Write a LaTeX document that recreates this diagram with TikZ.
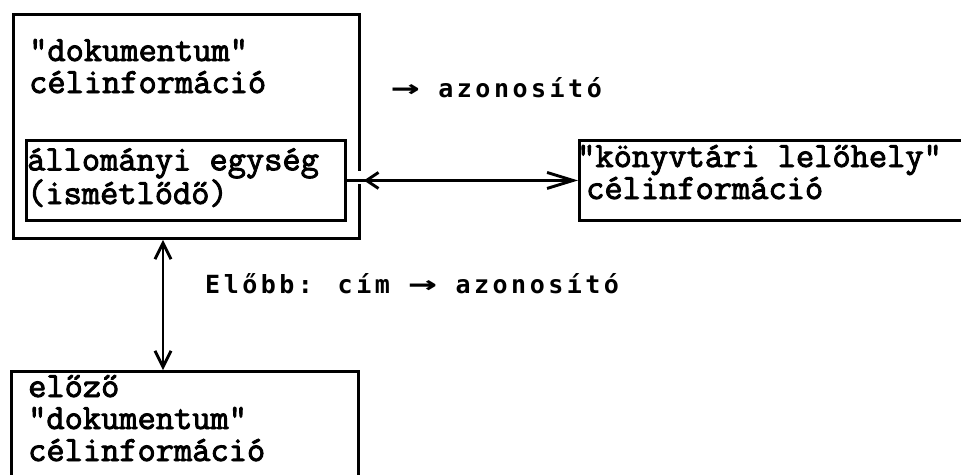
\documentclass[tikz,border=0pt]{standalone}
\usepackage{fontspec}
\setmainfont{Liberation Serif}
\newfontfamily\twfont[FakeBold=2.6]{Latin Modern Mono}
\newfontfamily\gothfont[LetterSpace=14]{DejaVu Sans Mono}
\usetikzlibrary{arrows.meta,decorations.markings}
\newcommand\bigarrow{\scalebox{1.9}[1.15]{\bfseries →}}
\begin{document}
\begin{tikzpicture}[x=1pt,y=-1pt,
  frame/.style={draw, line width=2.9pt, inner sep=0pt, anchor=north west},
  boxtext/.style={font=\twfont\fontsize{35.4}{32}\selectfont, align=left, inner sep=0pt, anchor=base west},
  lbl/.style={font=\gothfont\bfseries\fontsize{25}{28}\selectfont, inner sep=0pt, anchor=base west},
  conn/.style={line width=2.9pt},
  barb/.tip={Straight Barb[length=16pt,width=16pt]},
  longbarb/.tip={Straight Barb[length=26pt,width=16pt]},
  shortbarb/.tip={Straight Barb[length=12pt,width=16pt]}]
\useasboundingbox (0,0) rectangle (961,474);
\fill[white] (0,0) rectangle (961,474);
\clip (0,0) rectangle (961,474);

% frames
\node[frame, minimum width=346pt, minimum height=224pt] (doc) at (12,13) {};
\node[frame, minimum width=319pt, minimum height=80pt] (unit) at (25,139) {};
\node[frame, minimum width=400pt, minimum height=80pt] (loc) at (578,139) {};
\node[frame, minimum width=347pt, minimum height=140pt] (prev) at (10,370) {};

% texts (anchor = baseline of the last line)
\node[boxtext] (doct) at (29,93) {"dokumentum"\\célinformáció};
\node[boxtext] (unitt) at (27,204) {állományi egység\\(ismétlődő)};
\node[boxtext] (loct) at (577,199) {"könyvtári lelőhely"\\\hspace*{9pt}célinformáció};
\node[boxtext] (prevt) at (28,461) {előző\\"dokumentum"\\célinformáció};

\node[lbl] (idlbl) at (391,97) {\bigarrow\ azonosító};
\node[lbl] (prevlbl) at (205,293) {Előbb: cím \bigarrow\ azonosító};

% gap in the outer frame where the connector passes
\fill[white] (353,171) rectangle (363,184);

% connectors
\draw[conn, -{longbarb}, postaction={decorate},
  decoration={markings, mark=at position 17pt with {\arrowreversed{shortbarb}}}]
  (unit.east) -- (loc.west);
\coordinate (vx) at (163,0);
\draw[conn, {barb}-{barb}] (doc.south -| vx) -- (prev.north -| vx);
\end{tikzpicture}
\end{document}
